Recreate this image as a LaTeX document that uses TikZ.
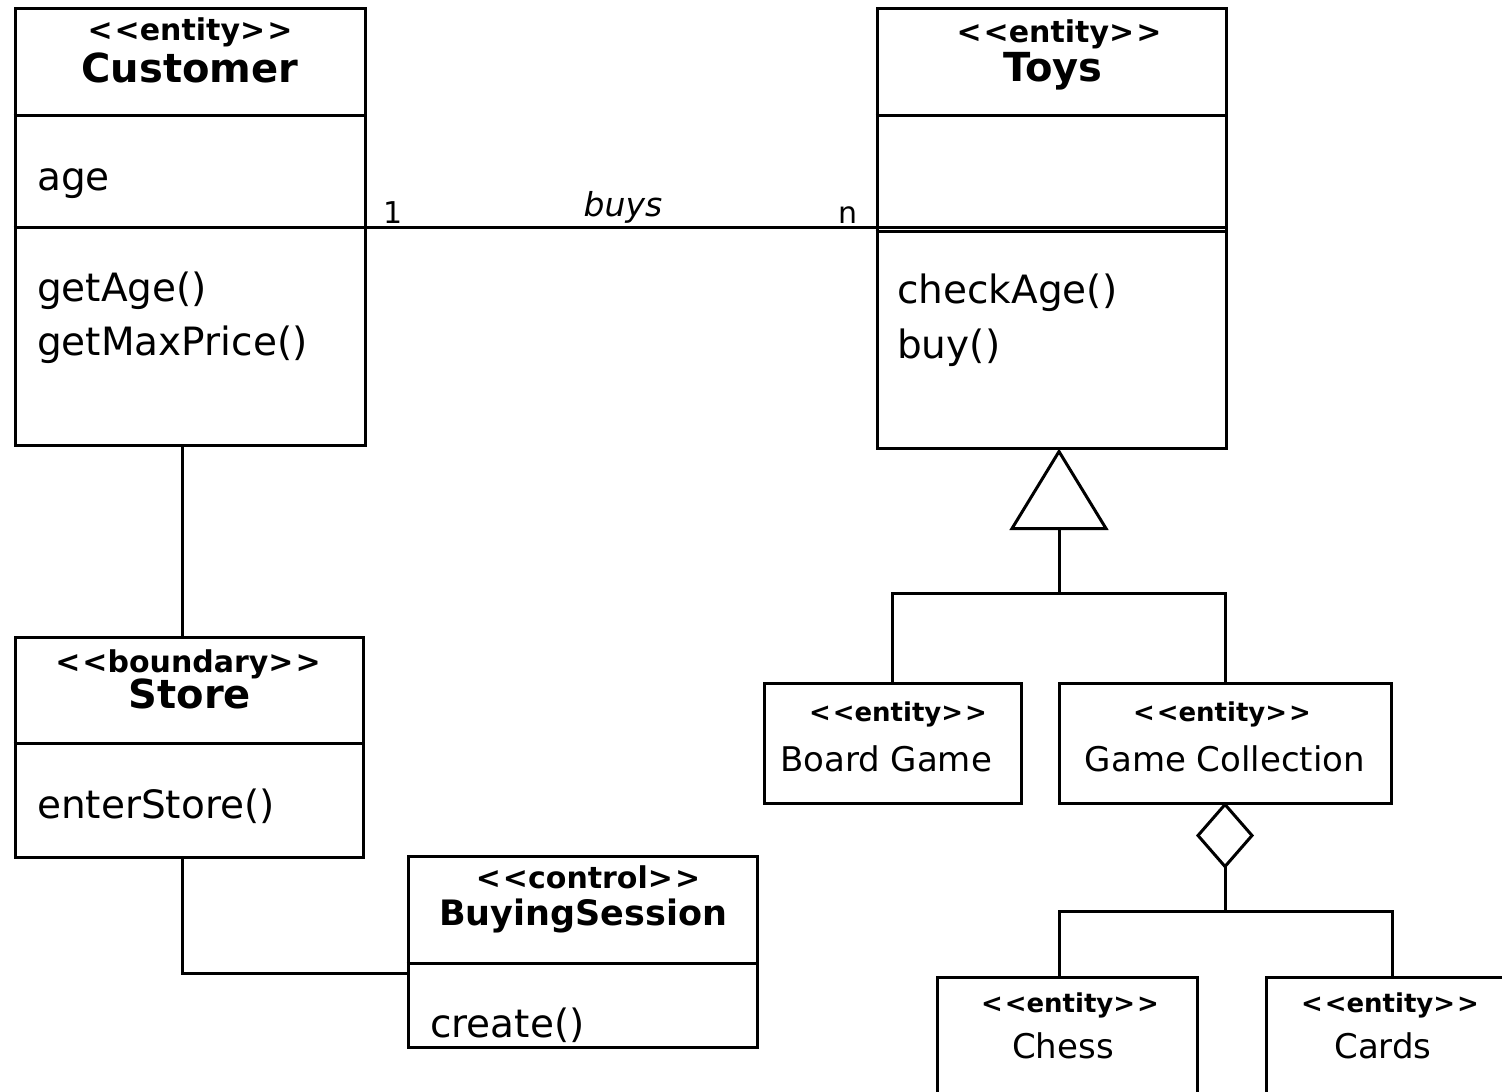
\documentclass[tikz,border=0pt]{standalone}
\usepackage{fontspec}
\setmainfont{DejaVu Sans}
\usetikzlibrary{calc}

\newcommand{\stereotype}[1]{<\kern2pt<#1>\kern2pt>}

\tikzset{
  umlbox/.style={draw, line width=3pt, rectangle, inner sep=0pt},
  wire/.style={line width=3pt},
  stereo/.style={inner sep=0pt, anchor=base, font=\bfseries\fontsize{30}{36}\selectfont},
  sstereo/.style={inner sep=0pt, anchor=base, font=\bfseries\fontsize{26}{31}\selectfont},
  cname/.style={inner sep=0pt, anchor=base, font=\bfseries\fontsize{40}{48}\selectfont},
  sname/.style={inner sep=0pt, anchor=base, font=\fontsize{34}{41}\selectfont},
  member/.style={inner sep=0pt, anchor=base west, font=\fontsize{39}{47}\selectfont},
  mult/.style={inner sep=0pt, anchor=base, font=\fontsize{30}{36}\selectfont},
  role/.style={inner sep=0pt, anchor=base, font=\itshape\fontsize{33}{40}\selectfont}
}

\begin{document}
\begin{tikzpicture}[x=1pt, y=-1pt]
\useasboundingbox (0,0) rectangle (1502,1092);
\clip (0,0) rectangle (1502,1092);
\fill[white] (0,0) rectangle (1502,1092);

% ---- class boxes ----
\node[umlbox, minimum width=350pt, minimum height=437pt] (cust) at (190,226.5) {};
\node[umlbox, minimum width=349pt, minimum height=440pt] (toys) at (1051.5,228) {};
\node[umlbox, minimum width=348pt, minimum height=220pt] (store) at (189,747) {};
\node[umlbox, minimum width=349pt, minimum height=191pt] (session) at (582.5,951.5) {};
\node[umlbox, minimum width=257pt, minimum height=120pt] (board) at (892.5,743) {};
\node[umlbox, minimum width=332pt, minimum height=120pt] (gcoll) at (1225,743) {};
\node[umlbox, minimum width=260pt, minimum height=133pt] (chess) at (1067,1043.5) {};
\node[umlbox, minimum width=252pt, minimum height=133pt] (cards) at (1392,1043.5) {};

% ---- compartment dividers ----
\draw[wire] ([yshift=-109pt]cust.north west) -- ([yshift=-109pt]cust.north east);
\draw[wire] ([yshift=-221pt]cust.north west) -- ([yshift=-221pt]cust.north east);
\draw[wire] ([yshift=-109pt]toys.north west) -- ([yshift=-109pt]toys.north east);
\draw[wire] ([yshift=-221pt]toys.north west) -- ([yshift=-221pt]toys.north east);
\draw[wire] ([yshift=-225pt]toys.north west) -- ([yshift=-225pt]toys.north east);
\draw[wire] ([yshift=-108pt]store.north west) -- ([yshift=-108pt]store.north east);
\draw[wire] ([yshift=-109pt]session.north west) -- ([yshift=-109pt]session.north east);

% ---- class texts ----
\node[stereo] (custst) at (190,40) {\stereotype{entity}};
\node[cname] (custnm) at (190,82) {Customer};
\node[member] (custat) at (37,190) {age};
\node[member] (custm1) at (37,301) {getAge()};
\node[member] (custm2) at (37,355) {getMaxPrice()};

\node[stereo] (toysst) at (1059,42) {\stereotype{entity}};
\node[cname] (toysnm) at (1053,81) {Toys};
\node[member] (toysm1) at (897,303) {checkAge()};
\node[member] (toysm2) at (897,358) {buy()};

\node[stereo] (storest) at (188,672) {\stereotype{boundary}};
\node[cname] (storenm) at (190,708) {Store};
\node[member] (storem1) at (37,818) {enterStore()};

\node[stereo] (sessst) at (588,888) {\stereotype{control}};
\node[cname, font=\bfseries\fontsize{35}{42}\selectfont] (sessnm) at (583,925) {BuyingSession};
\node[member] (sessm1) at (430,1037) {create()};

\node[sstereo] (boardst) at (898,721) {\stereotype{entity}};
\node[sname] (boardnm) at (886,771) {Board Game};
\node[sstereo] (gcollst) at (1222,721) {\stereotype{entity}};
\node[sname] (gcollnm) at (1225,771) {Game Collection};
\node[sstereo] (chessst) at (1070,1012) {\stereotype{entity}};
\node[sname] (chessnm) at (1063,1058) {Chess};
\node[sstereo] (cardsst) at (1390,1012) {\stereotype{entity}};
\node[sname] (cardsnm) at (1383,1058) {Cards};

% ---- association: Customer buys Toys ----
\draw[wire] ([yshift=-221pt]cust.north east) -- ([yshift=-221pt]toys.north west);
\node[mult] (m1) at (393,223) {1};
\node[role] (buys) at (623,216) {buys};
\node[mult] (mn) at (848,223) {n};

% ---- Customer -- Store -- BuyingSession ----
\draw[wire] ([xshift=-8pt]cust.south) -- ([xshift=-7pt]store.north);
\draw[wire] ([xshift=-7pt]store.south) |- ([yshift=-21.5pt]session.west);

% ---- generalization of Toys ----
\coordinate (genapex) at ([xshift=7.5pt,yshift=-2pt]toys.south);
\draw[wire, line join=miter] (genapex) -- ++(47,77) -- ++(-94,0) -- cycle;
\coordinate (genbase) at ($(genapex)+(0,77)$);
\coordinate (genfork) at ($(genbase)+(0,65)$);
\draw[wire] (genbase) -- (genfork);
\draw[wire] (genfork) -| (board.north);
\draw[wire] (genfork) -| (gcoll.north);

% ---- aggregation in Game Collection ----
\draw[wire, line join=miter] (gcoll.south) -- ++(27,31) -- ++(-27,31) -- ++(-27,-31) -- cycle;
\coordinate (aggbot) at ($(gcoll.south)+(0,62)$);
\coordinate (aggfork) at ($(aggbot)+(0,45)$);
\draw[wire] (aggbot) -- (aggfork);
\draw[wire] (aggfork) -| ([xshift=-8pt]chess.north);
\draw[wire] (aggfork) -| (cards.north);
\end{tikzpicture}
\end{document}
